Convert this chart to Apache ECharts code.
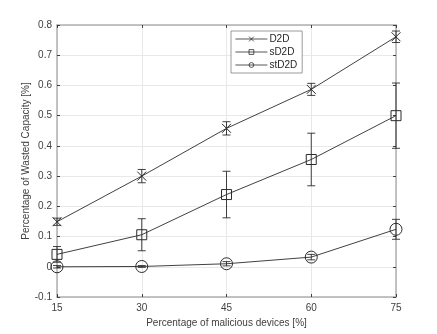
<!DOCTYPE html>
<html><head><meta charset="utf-8">
<script src="https://cdn.jsdelivr.net/npm/echarts@6/dist/echarts.min.js"></script>
<style>html,body{margin:0;padding:0;background:#fff}#c{width:437px;height:334px}</style>
</head><body><div id="c"></div>
<script>
const xValues = [15, 30, 45, 60, 75];
const xTicks = [15, 30, 45, 60, 75];
const yTicks = [-0.1, 0, 0.1, 0.2, 0.3, 0.4, 0.5, 0.6, 0.7, 0.8];
const d2d = [0.149, 0.300, 0.458, 0.587, 0.761];
const d2dErr = [0.012, 0.022, 0.022, 0.020, 0.019];
const sd2d = [0.041, 0.106, 0.239, 0.355, 0.500];
const sd2dErr = [0.026, 0.053, 0.077, 0.087, 0.108];
const std2d = [0.000, 0.001, 0.010, 0.032, 0.124];
const std2dErr = [0.004, 0.003, 0.007, 0.009, 0.033];

const FONT = 'Liberation Sans, Arial, sans-serif';
const LINE = '#2b2b2b';
const chart = echarts.init(document.getElementById('c'), null, {renderer: 'canvas'});

function errSeries(name, vals, errs) {
  return {
    type: 'custom', name: name + '_err', silent: true, z: 3,
    data: xValues.map((x, i) => [x, vals[i] - errs[i], vals[i] + errs[i]]),
    renderItem: function (params, api) {
      const lo = api.coord([api.value(0), api.value(1)]);
      const hi = api.coord([api.value(0), api.value(2)]);
      const w = 4;
      const st = {stroke: LINE, lineWidth: 0.9};
      return {type: 'group', children: [
        {type: 'line', shape: {x1: lo[0], y1: lo[1], x2: hi[0], y2: hi[1]}, style: st},
        {type: 'line', shape: {x1: lo[0]-w, y1: lo[1], x2: lo[0]+w, y2: lo[1]}, style: st},
        {type: 'line', shape: {x1: hi[0]-w, y1: hi[1], x2: hi[0]+w, y2: hi[1]}, style: st}
      ]};
    }
  };
}
function lineSeries(name, vals, symbol, size) {
  return {
    type: 'line', name: name, z: 4,
    data: xValues.map((x, i) => [x, vals[i]]),
    symbol: symbol, symbolSize: size, showAllSymbol: true,
    lineStyle: {color: LINE, width: 0.9},
    itemStyle: {color: 'rgba(0,0,0,0)', borderColor: LINE, borderWidth: 1},
    emphasis: {disabled: true}
  };
}
const axisLine = {show: true, onZero: false, lineStyle: {color: '#b0b0b0', width: 1.5}};
chart.setOption({
  animation: false,
  textStyle: {fontFamily: FONT},
  grid: {left: 57, right: 41, top: 25, bottom: 37, containLabel: false},
  legend: {
    left: 231, top: 31, orient: 'vertical',
    data: ['D2D', 'sD2D', 'stD2D'],
    itemWidth: 32, itemHeight: 6, itemGap: 3,
    padding: [3, 5, 3, 4],
    lineStyle: {width: 0.8},
    itemStyle: {borderWidth: 0.8},
    borderColor: '#808080', borderWidth: 0.8, backgroundColor: '#fff',
    textStyle: {fontFamily: FONT, fontSize: 10, color: '#262626', padding: [0, 0, 0, -3]}
  },
  xAxis: [{
    type: 'value', min: 15, max: 75, interval: 15,
    name: 'Percentage of malicious devices [%]', nameLocation: 'middle', nameGap: 21,
    nameMoveOverlap: false,
    nameTextStyle: {fontSize: 10, color: '#404040'},
    axisLine: axisLine,
    axisTick: {inside: true, length: 3, lineStyle: {color: '#404040'}},
    axisLabel: {fontSize: 10, color: '#404040', margin: 6, formatter: v => xTicks.includes(v) ? String(v) : ''},
    splitLine: {show: true, lineStyle: {color: '#e8e8e8', width: 1}}
  }, {
    type: 'value', position: 'top', min: 15, max: 75, interval: 15,
    axisLine: axisLine, axisTick: {inside: true, length: 3, lineStyle: {color: '#404040'}},
    axisLabel: {show: false}, splitLine: {show: false}
  }],
  yAxis: [{
    type: 'value', min: -0.1, max: 0.8, interval: 0.1,
    name: 'Percentage of Wasted Capacity [%]', nameLocation: 'middle', nameGap: 26,
    nameMoveOverlap: false,
    nameTextStyle: {fontSize: 10, color: '#404040'},
    axisLine: axisLine,
    axisTick: {inside: true, length: 3, lineStyle: {color: '#404040'}},
    axisLabel: {fontSize: 10, color: '#404040', margin: 5, formatter: v => String(+v.toFixed(1))},
    splitLine: {show: true, lineStyle: {color: '#e8e8e8', width: 1}}
  }, {
    type: 'value', position: 'right', min: -0.1, max: 0.8, interval: 0.1,
    axisLine: axisLine, axisTick: {inside: true, length: 3, lineStyle: {color: '#404040'}},
    axisLabel: {show: false}, splitLine: {show: false}
  }],
  series: [
    lineSeries('D2D', d2d, 'path://M0,0L10,10M10,0L0,10', 9),
    lineSeries('sD2D', sd2d, 'rect', 10),
    lineSeries('stD2D', std2d, 'circle', 12),
    errSeries('D2D', d2d, d2dErr),
    errSeries('sD2D', sd2d, sd2dErr),
    errSeries('stD2D', std2d, std2dErr)
  ]
});
</script></body></html>
